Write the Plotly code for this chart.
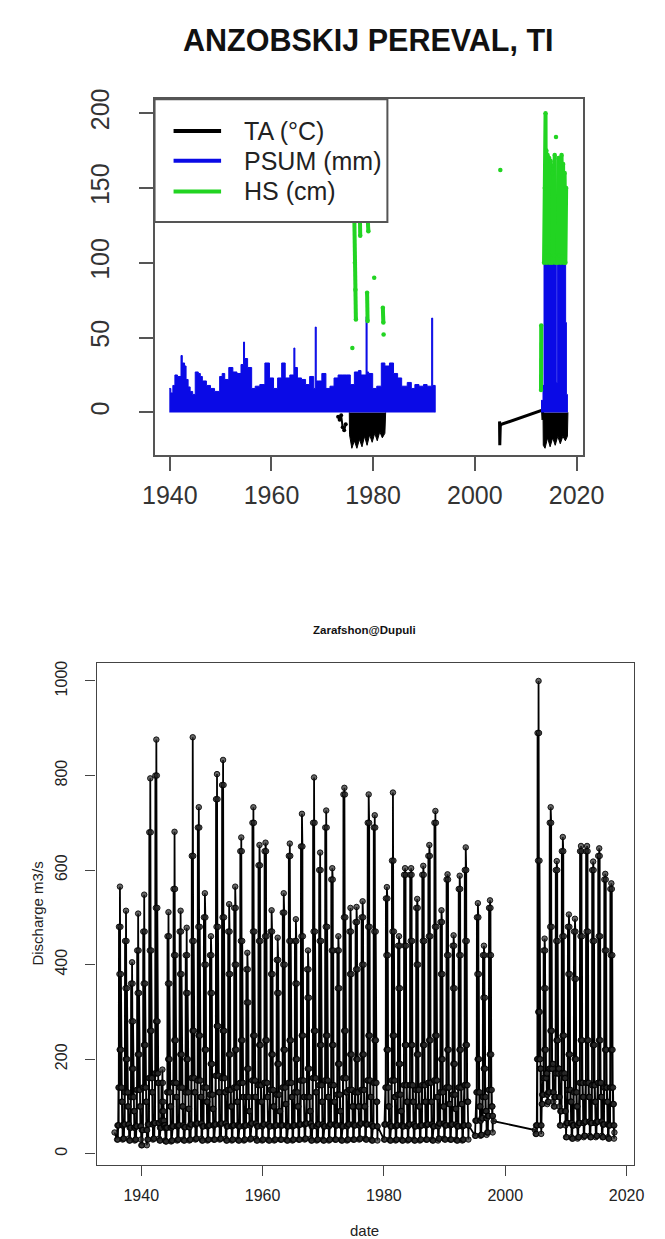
import plotly.graph_objects as go

W, H = 665, 1239
FONT = "Liberation Sans, Arial, Helvetica, sans-serif"

# ======================= Top panel: ANZOBSKIJ PEREVAL, TI =======================
top_title = "ANZOBSKIJ PEREVAL, TI"
top_xticks = [1940, 1960, 1980, 2000, 2020]
top_yticks = [0, 50, 100, 150, 200]
series_names = ["TA (°C)", "PSUM (mm)", "HS (cm)"]
series_colors = ["#000000", "#0a0ae6", "#22d422"]

# PSUM (mm) envelope, step-wise (year, mm)
psum_pts_1 = [
    (1939.9, 16), (1940.2, 13), (1940.6, 18), (1941.0, 25), (1941.5, 24), (1942.2, 38),
    (1942.45, 33), (1942.9, 31), (1943.2, 22), (1943.6, 17), (1944.0, 14), (1944.5, 12),
    (1945.0, 27), (1945.6, 26), (1946.0, 24), (1946.4, 21), (1947.2, 18), (1948.0, 16),
    (1948.8, 14), (1949.8, 24), (1950.3, 26), (1950.8, 22), (1951.6, 30), (1952.4, 27),
    (1953.2, 26), (1954.0, 32), (1954.5, 47), (1954.7, 36), (1955.3, 30), (1956.1, 16),
    (1956.8, 17.5), (1957.7, 18.6), (1958.7, 33), (1959.6, 23), (1960.4, 16), (1961.2, 23),
    (1962.0, 33), (1962.7, 23), (1963.6, 25), (1964.4, 43), (1964.6, 30), (1965.1, 23),
    (1965.9, 22), (1966.7, 18.6), (1967.5, 24), (1968.3, 16), (1968.6, 57), (1968.8, 21),
    (1969.3, 21), (1969.9, 26), (1970.7, 16), (1971.5, 17.5), (1972.3, 23), (1973.1, 25),
    (1973.9, 25), (1974.7, 25), (1975.5, 18.6), (1976.3, 27), (1977.1, 28), (1977.6, 25),
    (1978.6, 64), (1978.8, 27), (1979.1, 26), (1979.9, 16), (1980.7, 17.5), (1981.6, 33),
    (1982.3, 31), (1983.2, 33), (1984.0, 26), (1984.8, 23), (1985.6, 17.5), (1986.7, 20),
    (1987.5, 16), (1988.2, 18.6), (1989.0, 17.5), (1989.9, 18.6), (1990.6, 17.5),
    (1991.5, 63), (1991.7, 18), (1992.2, 0),
]
psum_pts_2 = [
    (2013.0, 8), (2013.4, 18), (2013.6, 100), (2016.0, 20), (2016.2, 100),
    (2017.85, 60), (2018.0, 12), (2018.2, 0),
]

# TA (°C): dense daily blocks (lower envelope), sparse points and 2005-2013 line
ta_block_1 = [
    (1975.3, 0), (1975.35, -15), (1975.8, -24), (1976.3, -19), (1976.8, -24), (1977.3, -18),
    (1977.8, -23), (1978.3, -16), (1978.8, -22), (1979.3, -15), (1979.8, -20), (1980.3, -14),
    (1980.8, -19), (1981.3, -13), (1981.8, -17), (1982.3, -14), (1982.45, 0),
]
ta_sparse = [(1973.1, -3), (1973.4, -5), (1973.7, -2), (1974.0, -10), (1974.3, -12), (1974.6, -8)]
ta_line = [(2004.85, -6), (2004.9, -22), (2004.95, -12), (2005.0, -9), (2005.2, -8),
           (2013.3, 1.5), (2013.4, -5)]
ta_block_2 = [
    (2013.4, 0), (2013.45, -22), (2013.8, -24), (2014.3, -17), (2014.8, -23), (2015.3, -17),
    (2015.8, -22), (2016.3, -16), (2016.8, -21), (2017.3, -16), (2017.8, -19), (2018.2, -16),
    (2018.3, 0),
]

# HS (cm): winter segments separated by gaps
hs_x = [1975.9, None,
        1976.3, 1976.4, 1976.5, 1976.6, None,
        1977.4, 1977.45, None,
        1978.8, 1978.9, None,
        1978.95, 1979.05, None,
        1980.2, None,
        1981.9, 1982.0, None,
        1982.05, None,
        2005.0, None,
        2013.0, 2013.05, None,
        2013.6, 2013.75, 2013.9, 2013.95, 2014.05, 2014.15, 2014.3, 2014.45, 2014.6, 2014.75, 2014.9, None,
        2015.2, 2015.3, 2015.4, 2015.55, 2015.7, 2015.85, None,
        2015.95, None,
        2016.3, 2016.45, 2016.6, 2016.75, 2016.9, 2017.05, 2017.2, 2017.35, 2017.5, 2017.65,
        2017.8, 2017.95]
hs_y = [43, None,
        128, 100, 82, 62, None,
        128, 118, None,
        80, 61, None,
        128, 121, None,
        90, None,
        70, 60, None,
        52, None,
        162, None,
        15, 58, None,
        100, 150, 200, 110, 175, 100, 172, 105, 170, 100, 168, None,
        100, 160, 165, 105, 172, 100, None,
        184, None,
        100, 170, 105, 168, 100, 172, 104, 166, 100, 160, 100, 150]

# ======================= Bottom panel: Zarafshon@Dupuli =======================
bot_title = "Zarafshon@Dupuli"
bot_xlabel = "date"
bot_ylabel = "Discharge m3/s"
bot_xticks = [1940, 1960, 1980, 2000, 2020]
bot_yticks = [0, 200, 400, 600, 800, 1000]

q_years = [1936, 1937, 1938, 1939, 1940, 1941, 1942, 1943, 1944, 1945,
           1946, 1947, 1948, 1949, 1950, 1951, 1952, 1953, 1954, 1955,
           1956, 1957, 1958, 1959, 1960, 1961, 1962, 1963, 1964, 1965,
           1966, 1967, 1968, 1969, 1970, 1971, 1972, 1973, 1974, 1975,
           1976, 1977, 1978, 1980, 1981, 1982, 1983, 1984, 1985, 1986,
           1987, 1988, 1989, 1990, 1991, 1992, 1993, 1995, 1996, 1997,
           2005, 2006, 2007, 2008, 2009, 2010, 2011, 2012, 2013, 2014,
           2015, 2016, 2017]
q_peak = [565, 514, 405, 508, 548, 794, 876, 178, 511, 681,
          514, 478, 881, 733, 551, 460, 803, 833, 528, 565,
          669, 425, 733, 653, 658, 515, 457, 551, 656, 496,
          719, 430, 796, 637, 726, 604, 460, 774, 520, 522,
          534, 760, 716, 564, 764, 460, 604, 604, 539, 609,
          653, 725, 515, 591, 462, 588, 648, 530, 440, 536,
          1000, 455, 733, 619, 670, 506, 497, 651, 651, 618,
          646, 592, 572]
q_spring = [480, 450, 360, 430, 470, 680, 800, 150, 460, 560,
            470, 420, 630, 690, 500, 420, 750, 780, 470, 520,
            640, 390, 700, 610, 640, 470, 410, 510, 630, 450,
            650, 390, 700, 600, 690, 580, 430, 760, 470, 490,
            500, 700, 690, 540, 620, 440, 590, 590, 520, 590,
            630, 700, 490, 580, 440, 560, 600, 500, 420, 520,
            890, 430, 700, 600, 640, 480, 470, 640, 640, 600,
            630, 580, 560]
q_late = [380, 350, 280, 340, 360, 430, 520, 110, 360, 420,
          380, 340, 450, 480, 400, 340, 480, 500, 380, 400,
          450, 320, 470, 450, 460, 380, 340, 400, 450, 360,
          460, 330, 470, 450, 480, 430, 350, 500, 380, 390,
          400, 480, 470, 420, 470, 350, 440, 450, 400, 450,
          460, 480, 380, 420, 350, 420, 450, 380, 330, 420,
          620, 350, 480, 450, 460, 380, 370, 460, 470, 450,
          460, 430, 420]
q_trough = [220, 200, 180, 210, 230, 260, 280, 90, 200, 240,
            210, 200, 260, 250, 220, 190, 270, 260, 210, 220,
            240, 180, 250, 230, 240, 210, 190, 220, 240, 200,
            250, 180, 260, 230, 250, 230, 190, 260, 210, 200,
            210, 250, 240, 220, 250, 190, 230, 230, 210, 230,
            240, 250, 200, 220, 190, 220, 230, 200, 180, 210,
            300, 220, 260, 240, 250, 210, 200, 240, 240, 230,
            240, 220, 220]
q_rise = [140, 130, 120, 135, 140, 160, 170, 70, 130, 150,
          140, 130, 160, 155, 140, 125, 165, 160, 135, 140,
          150, 120, 155, 145, 150, 135, 125, 140, 150, 130,
          155, 120, 160, 145, 155, 145, 125, 160, 135, 130,
          135, 155, 150, 140, 155, 125, 145, 145, 135, 145,
          150, 155, 130, 140, 125, 140, 145, 130, 120, 135,
          200, 160, 180, 170, 170, 135, 130, 150, 150, 145,
          150, 140, 140]
q_autumn = [110, 100, 90, 100, 110, 130, 150, 60, 100, 120,
            100, 95, 130, 120, 110, 95, 130, 130, 100, 110,
            120, 90, 120, 110, 120, 100, 90, 105, 120, 100,
            120, 90, 130, 110, 120, 110, 90, 130, 100, 100,
            100, 120, 110, 100, 120, 90, 110, 110, 100, 110,
            110, 120, 100, 105, 95, 105, 110, 100, 90, 100,
            180, 170, 190, 180, 160, 110, 100, 120, 120, 110,
            120, 110, 105]
q_base = [60, 62, 55, 58, 50, 62, 65, 55, 55, 58,
          60, 56, 62, 64, 58, 60, 62, 64, 58, 60,
          58, 60, 64, 58, 62, 58, 60, 60, 58, 60,
          62, 64, 58, 62, 58, 62, 60, 58, 62, 60,
          64, 62, 58, 62, 58, 60, 58, 62, 58, 60,
          62, 58, 64, 60, 62, 58, 60, 70, 75, 80,
          60, 125, 130, 120, 90, 65, 60, 65, 68, 65,
          68, 62, 60]
q_winter = [30, 32, 28, 30, 18, 30, 32, 28, 26, 28,
            30, 28, 30, 32, 28, 30, 30, 32, 28, 30,
            28, 30, 32, 28, 30, 28, 30, 30, 28, 30,
            30, 32, 28, 30, 28, 30, 30, 28, 30, 30,
            32, 30, 28, 30, 28, 30, 28, 30, 28, 30,
            30, 28, 32, 30, 30, 28, 30, 38, 40, 45,
            42, 105, 110, 100, 60, 35, 32, 35, 38, 35,
            38, 35, 32]
# isolated readings outside the seasonal pattern (start, 1998-2005 link, end)
q_extra = [(1935.6, 45), (1998.1, 69), (2004.9, 50), (2018.0, 45)]

# position within the year at which each seasonal reading is drawn
season_order = [
    (0.02, q_winter), (0.08, q_base), (0.14, q_winter), (0.20, q_base), (0.25, q_rise),
    (0.29, q_base), (0.33, q_spring), (0.37, q_rise), (0.41, q_late), (0.45, q_trough),
    (0.49, q_peak), (0.53, q_trough), (0.57, q_spring), (0.61, q_rise), (0.65, q_late),
    (0.69, q_trough), (0.73, q_autumn), (0.77, q_rise), (0.81, q_autumn), (0.85, q_base),
    (0.89, q_autumn), (0.93, q_winter), (0.97, q_base),
]

pts = list(q_extra)
for i, yr in enumerate(q_years):
    for pos, arr in season_order:
        pts.append((yr + pos, arr[i]))
pts.sort(key=lambda t: t[0])
q_x = [p[0] for p in pts]
q_y = [p[1] for p in pts]


def xs(p):
    return [a[0] for a in p]


def ys(p):
    return [a[1] for a in p]


fig = go.Figure()

# --- top panel traces (draw order: TA, PSUM, HS) ---
for blk in (ta_block_1, ta_block_2):
    fig.add_trace(go.Scatter(x=xs(blk), y=ys(blk), mode="lines", line=dict(color="black", width=1),
                             fill="tozeroy", fillcolor="black", showlegend=False, xaxis="x", yaxis="y"))
fig.add_trace(go.Scatter(x=xs(ta_sparse), y=ys(ta_sparse), mode="lines+markers",
                         line=dict(color="black", width=2), marker=dict(color="black", size=4),
                         showlegend=False, xaxis="x", yaxis="y"))
fig.add_trace(go.Scatter(x=xs(ta_line), y=ys(ta_line), mode="lines",
                         line=dict(color="black", width=3), showlegend=False, xaxis="x", yaxis="y"))
for blk in (psum_pts_1, psum_pts_2):
    fig.add_trace(go.Scatter(x=xs(blk), y=ys(blk), mode="lines",
                             line=dict(color=series_colors[1], width=1, shape="hv"),
                             fill="tozeroy", fillcolor=series_colors[1], showlegend=False, xaxis="x", yaxis="y"))
fig.add_trace(go.Scatter(x=hs_x, y=hs_y, mode="lines+markers", connectgaps=False,
                         line=dict(color=series_colors[2], width=4),
                         marker=dict(color=series_colors[2], size=4.5),
                         showlegend=False, xaxis="x", yaxis="y"))

# --- bottom panel ---
fig.add_trace(go.Scatter(x=q_x, y=q_y, mode="lines+markers",
                         line=dict(color="black", width=1.8),
                         marker=dict(symbol="circle", size=5.5, color="rgba(40,40,40,0.7)",
                                     line=dict(color="rgba(0,0,0,0.85)", width=1)),
                         showlegend=False, xaxis="x2", yaxis="y2"))

top_tick_font = dict(family=FONT, size=25, color="#333333")
bot_tick_font = dict(family=FONT, size=16, color="#222222")

# ---- legend box of the top panel (drawn in pixel positions of the page) ----
leg_box = dict(x0=150, x1=395, y0=89, y1=213)
leg_rows = [121, 151, 182]
leg_line_x = (170, 220)
leg_text_x = 242

shapes = [dict(type="rect", xref="paper", yref="paper", layer="above",
               x0=leg_box["x0"] / W, x1=leg_box["x1"] / W,
               y0=1 - leg_box["y1"] / H, y1=1 - leg_box["y0"] / H,
               line=dict(color="#555", width=2), fillcolor="white")]
annotations = []
for name, col, ry in zip(series_names, series_colors, leg_rows):
    shapes.append(dict(type="line", xref="paper", yref="paper", layer="above",
                       x0=leg_line_x[0] / W, x1=leg_line_x[1] / W, y0=1 - ry / H, y1=1 - ry / H,
                       line=dict(color=col, width=4)))
    annotations.append(dict(text=name, x=leg_text_x / W, y=1 - ry / H, xref="paper", yref="paper",
                            xanchor="left", yanchor="middle", showarrow=False,
                            font=dict(family=FONT, size=25, color="#222")))

annotations += [
    dict(text="<b>" + top_title + "</b>", x=375.5 / W, y=1 - 29 / H, xref="paper", yref="paper",
         xanchor="center", yanchor="middle", showarrow=False,
         font=dict(family=FONT, size=30.5, color="#111")),
    dict(text="<b>" + bot_title + "</b>", x=371 / W, y=1 - 625 / H, xref="paper", yref="paper",
         xanchor="center", yanchor="middle", showarrow=False,
         font=dict(family=FONT, size=11.5, color="#111")),
    dict(text=bot_xlabel, x=371 / W, y=1 - 1230 / H, xref="paper", yref="paper",
         xanchor="center", yanchor="middle", showarrow=False,
         font=dict(family=FONT, size=15, color="#222")),
    dict(text=bot_ylabel, x=27 / W, y=1 - 911 / H, xref="paper", yref="paper",
         xanchor="center", yanchor="middle", showarrow=False, textangle=-90,
         font=dict(family=FONT, size=15, color="#222")),
]

fig.update_layout(
    width=W, height=H, margin=dict(l=0, r=0, t=0, b=0),
    paper_bgcolor="white", plot_bgcolor="white", showlegend=False,
    xaxis=dict(domain=[150 / W, 601 / W], anchor="y", range=[1937.0, 2021.3],
               tickmode="array", tickvals=top_xticks, ticktext=[str(t) for t in top_xticks],
               ticks="outside", ticklen=14, tickwidth=1.5, tickcolor="#555",
               showline=True, mirror=True, linecolor="#555", linewidth=2,
               showgrid=False, zeroline=False, tickfont=top_tick_font, ticklabelstandoff=3),
    yaxis=dict(domain=[1 - 448 / H, 1 - 89 / H], anchor="x", range=[-28.5, 209.3],
               tickmode="array", tickvals=top_yticks, ticktext=[str(t) for t in top_yticks],
               ticks="outside", ticklen=14, tickwidth=1.5, tickcolor="#555", tickangle=-90,
               showline=True, mirror=True, linecolor="#555", linewidth=2,
               showgrid=False, zeroline=False, tickfont=top_tick_font, ticklabelstandoff=20),
    xaxis2=dict(domain=[89 / W, 654 / W], anchor="y2", range=[1932.64, 2021.15],
                tickmode="array", tickvals=bot_xticks, ticktext=[str(t) for t in bot_xticks],
                ticks="outside", ticklen=10, tickwidth=1, tickcolor="#444",
                showline=True, mirror=True, linecolor="#444", linewidth=1.3,
                showgrid=False, zeroline=False, tickfont=bot_tick_font, ticklabelstandoff=6),
    yaxis2=dict(domain=[1 - 1164 / H, 1 - 658 / H], anchor="x2", range=[-23.1, 1037.7],
                tickmode="array", tickvals=bot_yticks, ticktext=[str(t) for t in bot_yticks],
                ticks="outside", ticklen=10, tickwidth=1, tickcolor="#444", tickangle=-90,
                showline=True, mirror=True, linecolor="#444", linewidth=1.3,
                showgrid=False, zeroline=False, tickfont=bot_tick_font, ticklabelstandoff=12),
    shapes=shapes,
    annotations=annotations,
)

fig.write_html("out.html")
